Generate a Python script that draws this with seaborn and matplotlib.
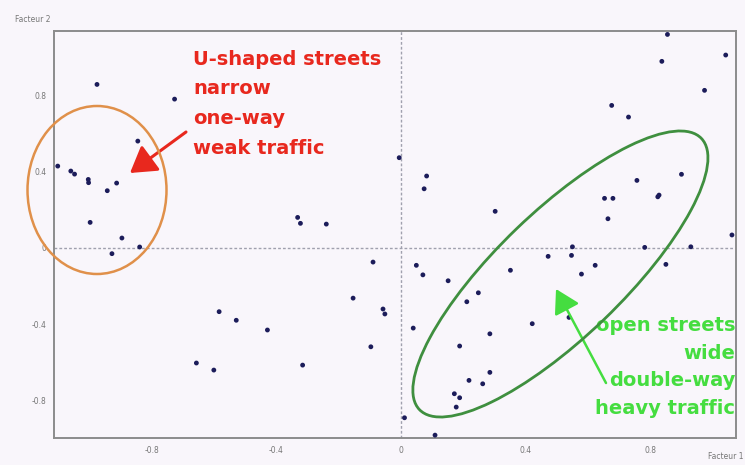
import matplotlib
matplotlib.use("Agg")
import matplotlib.pyplot as plt
from matplotlib.patches import Ellipse
from matplotlib.transforms import IdentityTransform
import seaborn as sns
import pandas as pd

# ---- data ----
factor1 = [-0.975, -0.726, -0.844, -1.101, -1.059, -1.047, -1.003, -1.002, -0.912, -0.942,
           -0.997, -0.895, -0.838, -0.927, -0.583, -0.528, -0.656, -0.600, -0.005, 0.083,
           0.075, -0.331, -0.322, -0.239, 0.303, -0.089, 0.050, 0.071, 0.152, 0.249,
           0.212, -0.153, -0.057, -0.051, -0.428, 0.040, 0.286, -0.096, 0.189, -0.315,
           0.286, 0.219, 0.263, 0.172, 0.189, 0.178, 0.012, 0.110, 0.856, 1.043,
           0.838, 0.975, 0.677, 0.731, 0.758, 0.901, 0.825, 0.829, 0.654, 0.681,
           0.665, 1.063, 0.551, 0.783, 0.931, 0.473, 0.548, 0.624, 0.352, 0.580,
           0.851, 0.422, 0.540]
factor2 = [0.856, 0.779, 0.559, 0.428, 0.402, 0.386, 0.358, 0.341, 0.339, 0.299,
           0.133, 0.051, 0.004, -0.031, -0.335, -0.380, -0.604, -0.641, 0.472, 0.376,
           0.309, 0.159, 0.128, 0.124, 0.191, -0.075, -0.092, -0.142, -0.173, -0.236,
           -0.283, -0.264, -0.321, -0.347, -0.431, -0.421, -0.451, -0.519, -0.515, -0.615,
           -0.653, -0.695, -0.713, -0.765, -0.786, -0.835, -0.891, -0.982, 1.118, 1.010,
           0.977, 0.825, 0.746, 0.685, 0.353, 0.385, 0.267, 0.276, 0.259, 0.259,
           0.152, 0.067, 0.005, 0.002, 0.005, -0.045, -0.040, -0.092, -0.118, -0.138,
           -0.087, -0.398, -0.365]
tick_values = [-0.8, -0.4, 0, 0.4, 0.8]
tick_labels = ["-0.8", "-0.4", "0", "0.4", "0.8"]
x_label = "Facteur 1"
y_label = "Facteur 2"
red_text = "U-shaped streets\nnarrow\none-way\nweak traffic"
green_text = "open streets\nwide\ndouble-way\nheavy traffic"

df = pd.DataFrame({"f1": factor1, "f2": factor2})

sns.set_theme(style="white")
plt.rcParams["font.family"] = ["DejaVu Sans"]

W, H = 745, 465
bg = "#f9f6fb"
fig = plt.figure(figsize=(W / 100, H / 100), dpi=100, facecolor=bg)
ax = fig.add_axes([54 / W, 1 - 438 / H, (736 - 54) / W, (438 - 31) / H])
ax.set_facecolor(bg)

sns.scatterplot(data=df, x="f1", y="f2", ax=ax, color="#1c1c5a", s=12,
                edgecolor="none", zorder=3, legend=False)

ax.set_xlim(-1.113, 1.076)
ax.set_ylim(-0.997, 1.136)
ax.axhline(0, color="#a0a0ae", lw=1.0, ls=(0, (2, 1.5)), zorder=1)
ax.axvline(0, color="#a0a0ae", lw=1.0, ls=(0, (2, 1.5)), zorder=1)

ax.set_xticks(tick_values)
ax.set_xticklabels(tick_labels)
ax.set_yticks(tick_values)
ax.set_yticklabels(tick_labels)
ax.tick_params(axis="both", labelsize=5.5, labelcolor="#777777", color="#888888",
               length=3, width=1, direction="inout", pad=4)
ax.set_xlabel("")
ax.set_ylabel("")
for sp in ax.spines.values():
    sp.set_color("#8c8c8c")
    sp.set_linewidth(1.4)

fig.text(15 / W, 1 - 20 / H, y_label, fontsize=5.5, color="#777777", va="center", ha="left")
fig.text(743 / W, 1 - 456 / H, x_label, fontsize=5.5, color="#777777", va="center", ha="right")

# ellipses (display pixels, origin bottom-left)
e1 = Ellipse((97, H - 190), 139, 168, angle=0, fill=False, edgecolor="#e0904a",
             lw=1.8, transform=IdentityTransform(), zorder=4)
fig.add_artist(e1)
e2 = Ellipse((560.4, H - 274), 2 * 195.6, 2 * 63, angle=43.9, fill=False,
             edgecolor="#3f8f3f", lw=2.0, transform=IdentityTransform(), zorder=4)
fig.add_artist(e2)

red = "#e8281e"
green = "#45dd40"
fig.text(193 / W, 1 - 50 / H, red_text, color=red, fontsize=14, fontweight="bold",
         ha="left", va="top", linespacing=1.7)
fig.text(735 / W, 1 - 316 / H, green_text, color=green, fontsize=14, fontweight="bold",
         ha="right", va="top", linespacing=1.57)

ax.annotate("", xy=(130, H - 173), xytext=(186, H - 132), xycoords="figure pixels",
            textcoords="figure pixels",
            arrowprops=dict(arrowstyle="-|>,head_length=1.3,head_width=0.8", color=red,
                            lw=2.2, shrinkA=0, shrinkB=0))
ax.annotate("", xy=(556, H - 289), xytext=(606, H - 383), xycoords="figure pixels",
            textcoords="figure pixels",
            arrowprops=dict(arrowstyle="-|>,head_length=1.2,head_width=0.7", color=green,
                            lw=1.8, shrinkA=0, shrinkB=0))

fig.savefig("out.png", dpi=100, facecolor=bg)
